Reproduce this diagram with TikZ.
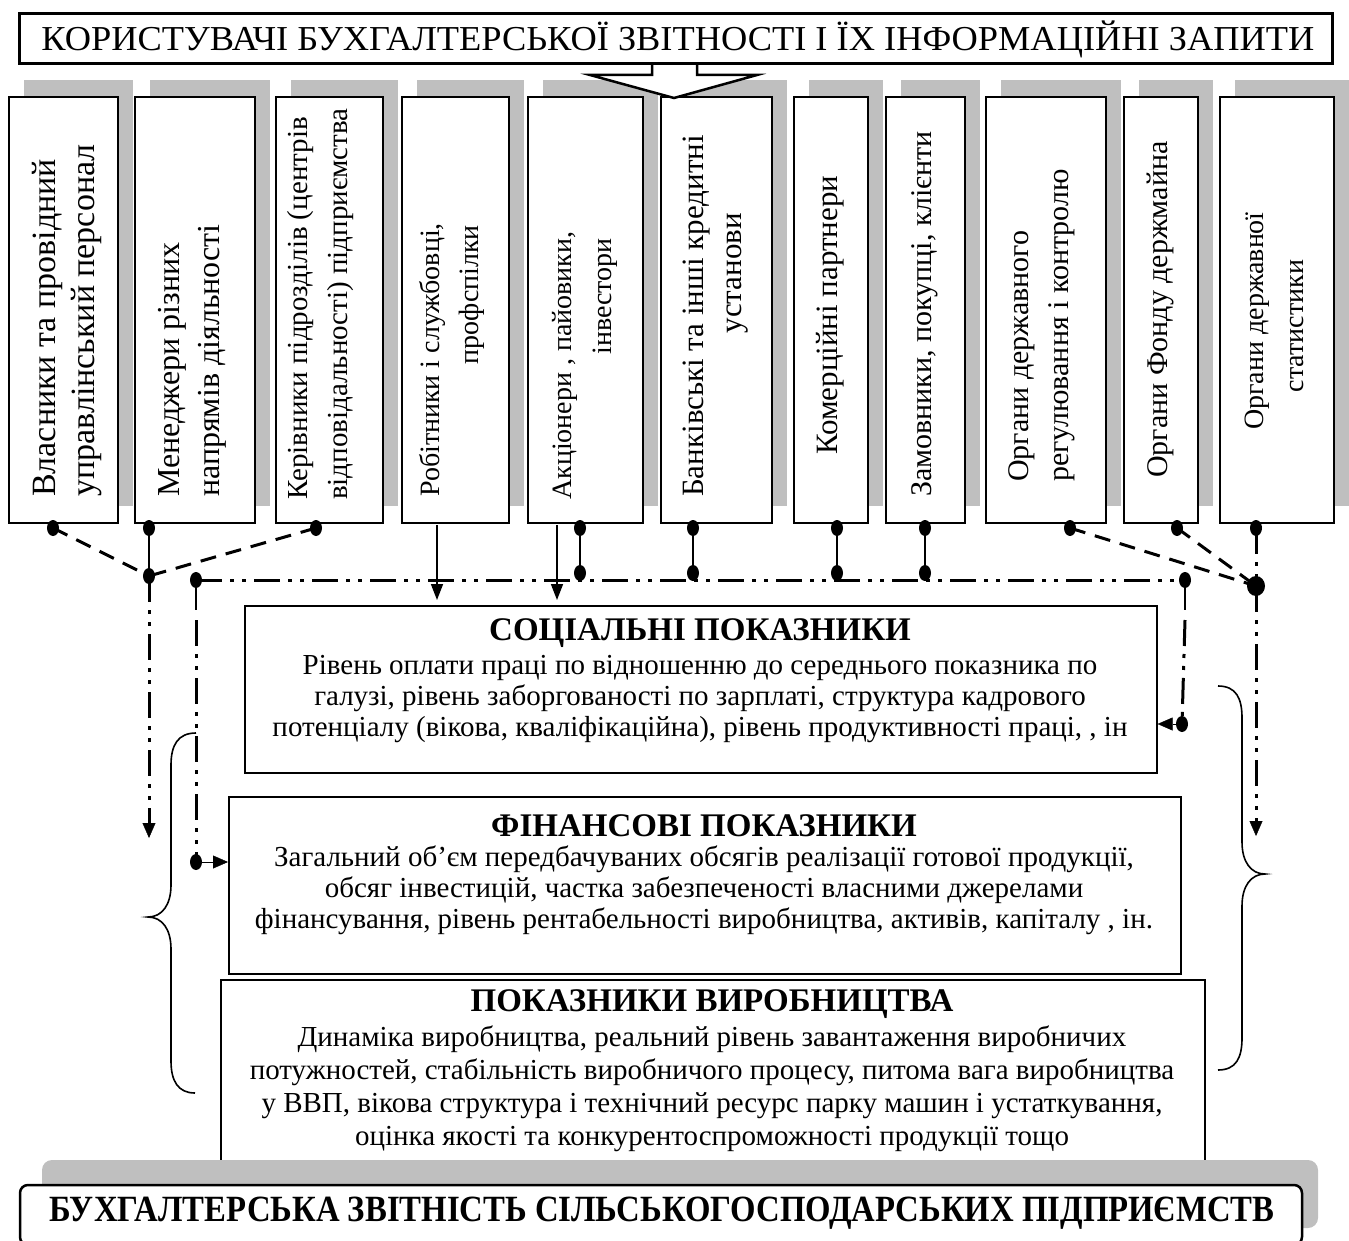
\documentclass[tikz,border=0pt]{standalone}
\usepackage{fontspec}
\setmainfont{Liberation Serif}
\usetikzlibrary{arrows.meta,shapes.geometric}
\tikzset{
  vbox/.style={draw, line width=1.6pt, fill=white, inner sep=0pt},
  shadowc/.style={fill=black!25},
  vtxt/.style={rotate=90, inner sep=0pt, font=\fontsize{#1}{#1}\selectfont},
  vtxt/.default=30,
  dotn/.style={ellipse, fill=black, inner sep=0pt, minimum width=12pt, minimum height=16pt},
  bigdot/.style={ellipse, fill=black, inner sep=0pt, minimum width=18pt, minimum height=20pt},
  dashc/.style={line width=3pt, dash pattern=on 16pt off 10pt},
  solidc/.style={line width=2.5pt},
  ddc/.style={line width=3pt, dash pattern=on 26pt off 8pt on 4pt off 8pt on 4pt off 8pt},
  thinarrow/.style={line width=1.6pt, -{Triangle[width=12pt,length=16pt]}},
  tri/.style={-{Triangle[width=13pt,length=15pt]}},
  ibox/.style={draw, line width=1.6pt, fill=white, inner sep=0pt},
  ttl/.style={font=\bfseries\fontsize{33}{36}\selectfont, inner sep=0pt},
  body/.style={font=\fontsize{29}{31}\selectfont, align=center, inner sep=0pt},
  brace/.style={line width=1.6pt}
}
\begin{document}
\begin{tikzpicture}[x=1pt,y=-1pt]
\useasboundingbox (0,0) rectangle (1349,1241);

% shadows of vertical boxes
\foreach \a/\b in {8/117,134/254,275/382,401/508,527/642,660/771,793/867,885/964,985/1105,1123/1197,1219/1333}{
  \fill[shadowc] (\a+16,80) rectangle (\b+16,506);
}
% vertical boxes
\node[vbox, minimum width=109pt, minimum height=426pt, anchor=north west] (b1) at (8,96) {};
\node[vbox, minimum width=120pt, minimum height=426pt, anchor=north west] (b2) at (134,96) {};
\node[vbox, minimum width=107pt, minimum height=426pt, anchor=north west] (b3) at (275,96) {};
\node[vbox, minimum width=107pt, minimum height=426pt, anchor=north west] (b4) at (401,96) {};
\node[vbox, minimum width=115pt, minimum height=426pt, anchor=north west] (b5) at (527,96) {};
\node[vbox, minimum width=111pt, minimum height=426pt, anchor=north west] (b6) at (660,96) {};
\node[vbox, minimum width=74pt, minimum height=426pt, anchor=north west] (b7) at (793,96) {};
\node[vbox, minimum width=79pt, minimum height=426pt, anchor=north west] (b8) at (885,96) {};
\node[vbox, minimum width=120pt, minimum height=426pt, anchor=north west] (b9) at (985,96) {};
\node[vbox, minimum width=74pt, minimum height=426pt, anchor=north west] (b10) at (1123,96) {};
\node[vbox, minimum width=114pt, minimum height=426pt, anchor=north west] (b11) at (1219,96) {};

% vertical texts
\node[vtxt=34, anchor=west] (t1a) at (47,497) {Власники та провідний};
\node[vtxt=34, anchor=west] (t1b) at (87,497) {управлінський персонал};
\node[vtxt=32, anchor=west] (t2a) at (172,497) {Менеджери різних};
\node[vtxt=32, anchor=west] (t2b) at (212,497) {напрямів діяльності};
\node[vtxt=29, anchor=west] (t3a) at (301,500) {Керівники підрозділів (центрів};
\node[vtxt=29, anchor=west] (t3b) at (341,500) {відповідальності) підприємства};
\node[vtxt=28, anchor=west] (t4a) at (432,497) {Робітники і службовці,};
\node[vtxt=28, anchor=east] (t4b) at (472,225) {профспілки};
\node[vtxt=28, anchor=west] (t5a) at (565,500) {Акціонери , пайовики,};
\node[vtxt=28, anchor=east] (t5b) at (605,238) {інвестори};
\node[vtxt=31, anchor=west] (t6a) at (697,497) {Банківські та інші кредитні};
\node[vtxt=31, anchor=east] (t6b) at (738,213) {установи};
\node[vtxt=31, anchor=west] (t7) at (830,455) {Комерційні партнери};
\node[vtxt=30, anchor=west] (t8) at (925,497) {Замовники, покупці, клієнти};
\node[vtxt=30, anchor=west] (t9a) at (1022,482) {Органи державного};
\node[vtxt=30, anchor=west] (t9b) at (1062,482) {регулювання і контролю};
\node[vtxt=30, anchor=west] (t10) at (1160,478) {Органи Фонду держмайна};
\node[vtxt=28] (t11a) at (1257,321) {Органи державної};
\node[vtxt=28] (t11b) at (1297,326) {статистики};

% block arrow
\draw[line width=2.5pt, fill=white, line join=miter] (652,62) -- (652,75) -- (590,75) -- (674,98) -- (757,75) -- (697,75) -- (697,62);
% header
\node[draw, line width=2.8pt, fill=white, minimum width=1313pt, minimum height=50pt, inner sep=0pt, anchor=north west] (hdr) at (18,12) {};
\node[inner sep=0pt] (hdrt) at (678,39) {\resizebox{1273pt}{\height}{\fontsize{35}{38}\selectfont КОРИСТУВАЧІ БУХГАЛТЕРСЬКОЇ ЗВІТНОСТІ І ЇХ ІНФОРМАЦІЙНІ ЗАПИТИ}};

% indicator boxes
\node[ibox, minimum width=912pt, minimum height=167pt, anchor=north west] (soc) at (244,605) {};
\node[ttl] (soct) at (700,633) {СОЦІАЛЬНІ ПОКАЗНИКИ};
\node[body, anchor=north] (socb) at (700,655) {Рівень оплати праці по відношенню до середнього показника по\\галузі, рівень заборгованості по зарплаті, структура кадрового\\потенціалу (вікова, кваліфікаційна), рівень продуктивності праці, , ін};

\node[ibox, minimum width=952pt, minimum height=177pt, anchor=north west] (fin) at (228,796) {};
\node[ttl] (fint) at (704,826) {ФІНАНСОВІ ПОКАЗНИКИ};
\node[body, anchor=north] (finb) at (704,846) {Загальний об’єм передбачуваних обсягів реалізації готової продукції,\\обсяг інвестицій, частка забезпеченості власними джерелами\\фінансування, рівень рентабельності виробництва, активів, капіталу , ін.};

\node[ibox, minimum width=984pt, minimum height=191pt, anchor=north west] (prd) at (220,979) {};
\node[ttl] (prdt) at (712,1004) {ПОКАЗНИКИ ВИРОБНИЦТВА};
\node[body, anchor=north, font=\fontsize{29}{33}\selectfont] (prdb) at (712,1026) {Динаміка виробництва, реальний рівень завантаження виробничих\\потужностей, стабільність виробничого процесу, питома вага виробництва\\у ВВП, вікова структура і технічний ресурс парку машин і устаткування,\\оцінка якості та конкурентоспроможності продукції тощо};

% bottom bar
\fill[shadowc, rounded corners=10pt] (42,1160) rectangle (1318,1228);
\draw[line width=2.5pt, fill=white, rounded corners=8pt] (20,1185) rectangle (1302,1245);
\node[inner sep=0pt] (bot) at (662,1213) {\resizebox{1225pt}{\height}{\bfseries\fontsize{37}{40}\selectfont БУХГАЛТЕРСЬКА ЗВІТНІСТЬ СІЛЬСЬКОГОСПОДАРСЬКИХ ПІДПРИЄМСТВ}};

% connector points
\coordinate (d1) at (53,528);
\coordinate (d2) at (149,528);
\coordinate (d3) at (316,528);
\coordinate (j1) at (149,576);
\coordinate (k) at (196,580);
\coordinate (r) at (1185,580);
\coordinate (d5a) at (580,528); \coordinate (d5b) at (580,573);
\coordinate (d6a) at (693,528); \coordinate (d6b) at (693,573);
\coordinate (d7a) at (837,528); \coordinate (d7b) at (837,573);
\coordinate (d8a) at (925,528); \coordinate (d8b) at (925,573);
\coordinate (d9) at (1070,528);
\coordinate (d10) at (1177,528);
\coordinate (d11) at (1256,528);
\coordinate (br) at (1256,586);
\coordinate (la) at (149,838);
\coordinate (ra) at (1256,836);
\coordinate (kc) at (196,862);
\coordinate (rc) at (1182,724);
\coordinate (a4) at (437,525); \coordinate (a4e) at (437,600);
\coordinate (a5) at (557,525); \coordinate (a5e) at (557,600);

% connectors
\draw[dashc] (d1) -- (j1);
\draw[dashc] (d3) -- (j1);
\draw[solidc] (d2) -- (j1);
\draw[ddc] (j1) -- (149,826);
\draw[tri] (149,820) -- (la);
\draw[ddc] (k) -- (r);
\draw[solidc] (k) -- (196,610);
\draw[ddc] (196,620) -- (kc);
\draw[solidc] (r) -- (1185,610);
\draw[ddc] (1185,620) -- (rc);
\draw[solidc] (d5a) -- (d5b);
\draw[solidc] (d6a) -- (d6b);
\draw[solidc] (d7a) -- (d7b);
\draw[solidc] (d8a) -- (d8b);
\draw[dashc] (d9) -- (br);
\draw[dashc] (d10) -- (br);
\draw[ddc] (d11) -- (br);
\draw[ddc] (br) -- (1256,824);
\draw[tri] (1256,818) -- (ra);
\draw[tri] (kc) -- (fin.west |- kc);
\draw[tri] (rc) -- (soc.east |- rc);
\draw[thinarrow] (a4) -- (a4e);
\draw[thinarrow] (a5) -- (a5e);

\foreach \p in {d1,d2,d3,j1,k,r,d5a,d5b,d6a,d6b,d7a,d7b,d8a,d8b,d9,d10,d11,kc,rc}{
  \node[dotn] at (\p) {};
}
\node[bigdot] (brn) at (br) {};

% braces
\draw[brace] (196,733) .. controls (178,733) and (171,745) .. (171,765) -- (171,885)
  .. controls (171,905) and (162,917) .. (148,917) .. controls (162,917) and (171,929) .. (171,949)
  -- (171,1061) .. controls (171,1081) and (178,1093) .. (195,1093);
\draw[brace] (1218,686) .. controls (1236,686) and (1242,698) .. (1242,718) -- (1242,842)
  .. controls (1242,862) and (1251,874) .. (1265,874) .. controls (1251,874) and (1242,886) .. (1242,906)
  -- (1242,1038) .. controls (1242,1058) and (1236,1070) .. (1218,1070);
\end{tikzpicture}
\end{document}
